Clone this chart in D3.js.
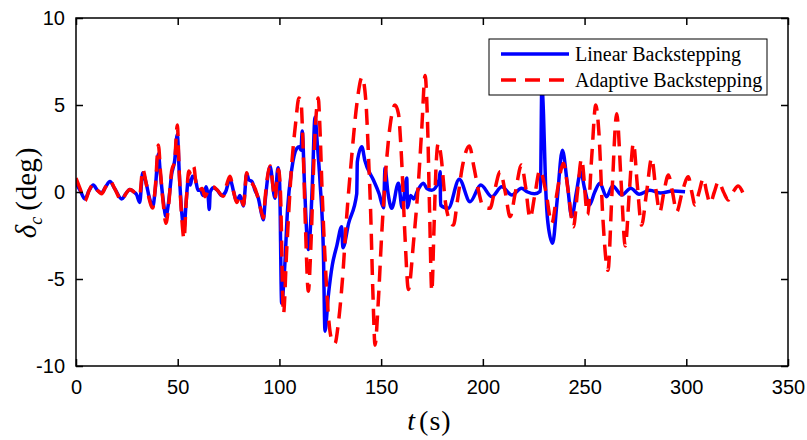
<!DOCTYPE html>
<html>
<head>
<meta charset="utf-8">
<script src="https://cdn.jsdelivr.net/npm/d3@7"></script>
<style>
body{ margin:0; background:#fff; }
</style>
</head>
<body>
<svg id="chart" width="807" height="440"></svg>
<script>

// series (time in s, deflection in deg)
var tLinear = [0,2,4.4,6.5,8.5,10.5,12.6,14.6,16.7,19,22.5,24.5,26.5,28.5,29.8,31.3,32.8,34.5,36,37.7,39,40.5,41.5,43,44.2,45.5,47,48.5,49.8,50.8,52,53.1,54.2,55.2,56.2,57.2,58.5,60,61.2,62.5,64,65,65.5,66,67.5,69.5,71.5,73.5,75.7,77.5,79,80.6,82.3,83.9,85,86.5,88,89.6,91.3,92.1,93,95.4,97.8,99.3,100.1,101.1,102.5,104,106,108.5,109.8,110.6,111.2,112.3,113.5,114.2,115,116.2,117.5,118.6,120,121.6,122.4,124,126,128.2,130.6,131.2,134,138,138.3,140.5,142,146.2,149,151.2,151.9,153.3,155.2,158.5,160.3,162.6,163,164.5,166,168,170.8,172.5,174.9,178.5,179,179.2,183,188.4,193.7,199,204.4,209.3,214.2,219,222,225.4,228.3,229,229.8,230.8,232,234.3,236.5,239.1,241.5,243.7,246,248.1,250,252.4,255,257.5,260.8,263.8,268.3,272.7,276.8,282,287.5,293.3,299.4];
var vLinear = [0.5,0.1,-0.4,0.1,0.4,0.1,-0.05,0.3,0.6,0.2,-0.4,-0.1,0.15,0,-0.15,-0.6,1.1,0.5,-0.3,-0.85,0.2,2.2,1.0,-0.6,-1.4,-0.6,1.0,1.8,3.3,1.0,-1.2,-2.1,-0.5,0.7,0.4,0.9,0.8,0.1,0.1,-0.2,0.3,-0.3,-1.0,0,0.25,0.1,-0.2,0,0.75,0,-0.55,-0.2,-0.8,1.05,0.7,0.6,0.1,-0.35,-1.3,-1.6,-0.5,1.46,-0.36,1.4,0.5,-6.4,-4.5,-1,1.26,2.5,2.6,2.4,3.5,0.5,-2.5,-3.3,-2.5,0.5,4.3,2.8,0.5,-3.4,-8.0,-6,-4.2,-3.1,-2.0,-3.2,-1.8,-0.1,1.74,2.6,1.8,0.69,-0.1,-0.9,1.36,0,-0.94,0.5,-0.9,0.8,-0.9,-0.2,-0.4,0.1,0.5,0.2,0.1,0.7,1.17,-0.75,-0.94,0.73,-0.56,0.4,-0.27,0.3,-0.17,0.21,0,-0.1,0.05,6.2,4.5,0.5,-1.8,-2.95,-0.5,2.4,0.5,-1.42,0,1.17,0.2,-0.75,0,0.5,-0.27,0.34,-0.17,0.21,-0.13,0.1,-0.06,0.06,0.02];

var tAdaptive = [0,2,4.4,6.5,8.5,10.5,12.6,14.6,16.7,19,22.5,24.5,26.5,28.5,29.8,31.3,32.8,34.5,36,37.7,39,40.5,41.5,43,44.2,45.5,47,48.5,49.8,50.8,52,53.1,54.2,55.5,56.5,57.9,59,60.5,62,63.4,65,67.3,69.5,72.4,74,75.7,77.5,79,80.6,82.3,83.9,85,86.5,88,89.6,91.3,92.1,93,95.4,97.8,99.5,100.5,102,103.5,106,108,109.6,110.6,111.5,112.8,114.2,115.5,117,118.3,119.1,119.8,121,122.5,124,125.5,127.3,129,131,133,135.5,138,140.6,142.5,143.8,144.8,146,147,148.5,150.2,152.7,154.5,156.8,158.5,160,161.7,163.4,165.9,168.3,170,171.6,172.8,173.8,174.9,176,177,178.1,179.5,181.5,183.5,185.5,187.5,190,193.4,195.5,198,200,203.5,206,208.5,211,213.4,216,219,221,223.2,225.5,228,231,233.9,236.5,239.6,242,244.5,246.5,248.5,251.5,253.5,255.5,257,259,261.5,263.5,265.8,268,270,272,274,276,278,280.5,283,285,287,289,291.2,293.2,295.3,298,301,302.7,304.3,306.3,308.4,310,311.7,313.8,315.8,318.3,320.7,323,325.5,328.5];
var vAdaptive = [0.8,0.2,-0.5,0.1,0.45,0.1,-0.1,0.3,0.65,0.2,-0.5,-0.1,0.15,0,-0.15,-0.2,1.3,0.5,-0.4,-0.92,0.3,2.7,1.2,-0.8,-1.8,-0.8,1.2,1.8,3.85,1.0,-1.5,-2.7,-0.5,1.2,1.0,1.45,0.5,0.1,0.2,-0.27,0.1,0.3,0.1,-0.25,0.4,0.9,0,-0.6,-0.2,-0.75,1.1,0.6,0.5,0.2,-0.4,-1.2,-1.5,-0.3,1.5,-0.4,1.3,0,-7.0,-3.5,1.5,4,5.4,5.2,3.0,-2,-5.7,-3,2,4.8,5.4,4.0,0,-4,-7,-8.4,-8.7,-7.5,-5,-1.5,2,5,6.6,5.2,2,-1.0,-6,-8.8,-6.5,-2.6,1.84,3.9,5.0,4.5,2,-2.5,-5.6,-2.9,0.5,3.7,6.7,4,-1,-5.7,-2,1.5,2.8,2.0,-0.5,-1.6,-1.9,-0.5,1.5,2.64,1.5,0,-0.8,-0.94,0.2,1.17,0,-1.42,0,1.55,0.3,-1.5,-0.2,1.26,0,-1.8,0,1.65,0,-2.0,0,1.9,-1.3,2.0,5.0,3.5,-1.5,-4.5,0,4.5,0.5,-3.1,0,2.8,0.3,-1.9,0,1.94,0.2,-1.13,0,0.98,0,-1.13,0,0.88,0,-0.75,0,0.79,0,-0.65,0,0.6,0,-0.46,0,0.35,-0.25];

var xTicks = [0,50,100,150,200,250,300,350];
var yTicks = [-10,-5,0,5,10];
var seriesNames = ['Linear Backstepping','Adaptive Backstepping'];

/**************************************************************************************/

var svg = d3.select('#chart');
var plotL = 76, plotR = 788, plotT = 18, plotB = 366;

var x = d3.scaleLinear().domain([0,350]).range([plotL,plotR]);
var y = d3.scaleLinear().domain([-10,10]).range([plotB,plotT]);

svg.append('clipPath').attr('id','plotclip')
    .append('rect').attr('x',plotL).attr('y',plotT).attr('width',plotR-plotL).attr('height',plotB-plotT);

var line = d3.line()
    .x(function(d){ return x(d[0]); })
    .y(function(d){ return y(d[1]); })
    .curve(d3.curveMonotoneX);

var linearData = tLinear.map(function(t,i){ return [t, vLinear[i]]; });
var adaptiveData = tAdaptive.map(function(t,i){ return [t, vAdaptive[i]]; });

var plot = svg.append('g').attr('clip-path','url(#plotclip)');
plot.append('path').datum(linearData)
    .attr('d',line).attr('fill','none').attr('stroke','#0000ff').attr('stroke-width',3.5)
    .attr('stroke-linejoin','round');
plot.append('path').datum(adaptiveData)
    .attr('d',line).attr('fill','none').attr('stroke','#ff0000').attr('stroke-width',3.5)
    .attr('stroke-dasharray','16,9');

// box axes, ticks inside on all four sides
var tickFont = '"Liberation Sans", Arial, sans-serif';
svg.append('g').attr('transform','translate(0,'+plotB+')')
    .call(d3.axisBottom(x).tickValues(xTicks).tickSizeInner(-7).tickSizeOuter(0).tickPadding(14))
    .call(function(g){ g.select('.domain').remove(); });
svg.append('g').attr('transform','translate(0,'+plotT+')')
    .call(d3.axisTop(x).tickValues(xTicks).tickSizeInner(-7).tickSizeOuter(0).tickFormat(''))
    .call(function(g){ g.select('.domain').remove(); });
svg.append('g').attr('transform','translate('+plotL+',0)')
    .call(d3.axisLeft(y).tickValues(yTicks).tickSizeInner(-7).tickSizeOuter(0).tickPadding(11)
        .tickFormat(function(d){ return String(d); }))
    .call(function(g){ g.select('.domain').remove(); });
svg.append('g').attr('transform','translate('+plotR+',0)')
    .call(d3.axisRight(y).tickValues(yTicks).tickSizeInner(-7).tickSizeOuter(0).tickFormat(''))
    .call(function(g){ g.select('.domain').remove(); });

svg.selectAll('.tick line').attr('stroke','#000').attr('stroke-width',1.5);
svg.selectAll('.tick text').attr('font-family',tickFont).attr('font-size',20).attr('fill','#000');

svg.append('rect').attr('x',plotL).attr('y',plotT).attr('width',plotR-plotL).attr('height',plotB-plotT)
    .attr('fill','none').attr('stroke','#000').attr('stroke-width',1.5);

// axis labels
var serif = '"Liberation Serif", "Times New Roman", serif';
var xl = svg.append('text').attr('x',429).attr('y',430).attr('text-anchor','middle')
    .attr('font-family',serif).attr('font-size',28).attr('fill','#000');
xl.append('tspan').attr('font-style','italic').text('t');
xl.append('tspan').attr('dx',4).text('(');
xl.append('tspan').attr('dx',1).text('s');
xl.append('tspan').attr('dx',1).text(')');

var yl = svg.append('text').attr('transform','translate(36,193) rotate(-90)').attr('text-anchor','middle')
    .attr('font-family',serif).attr('font-size',29).attr('fill','#000');
yl.append('tspan').attr('font-style','italic').text('δ');
yl.append('tspan').attr('font-style','italic').attr('font-size',18).attr('dy',6).text('c');
yl.append('tspan').attr('dy',-6).attr('dx',6).text('(');
yl.append('tspan').attr('dx',1).text('deg');
yl.append('tspan').attr('dx',1).text(')');

// legend
var lg = svg.append('g').attr('transform','translate(489,39)');
lg.append('rect').attr('width',278).attr('height',56).attr('fill','#fff').attr('stroke','#000').attr('stroke-width',1);
var items = [{ name: seriesNames[0], color: '#0000ff', dash: null },
             { name: seriesNames[1], color: '#ff0000', dash: '15,9' }];
items.forEach(function(d,i){
    var yy = 15 + i*26;
    lg.append('line').attr('x1',12).attr('x2',80).attr('y1',yy).attr('y2',yy)
        .attr('stroke',d.color).attr('stroke-width',3.5).attr('stroke-dasharray',d.dash);
    lg.append('text').attr('x',86).attr('y',yy+7).attr('font-family',serif).attr('font-size',20)
        .attr('fill','#000').text(d.name);
});

</script>
</body>
</html>
